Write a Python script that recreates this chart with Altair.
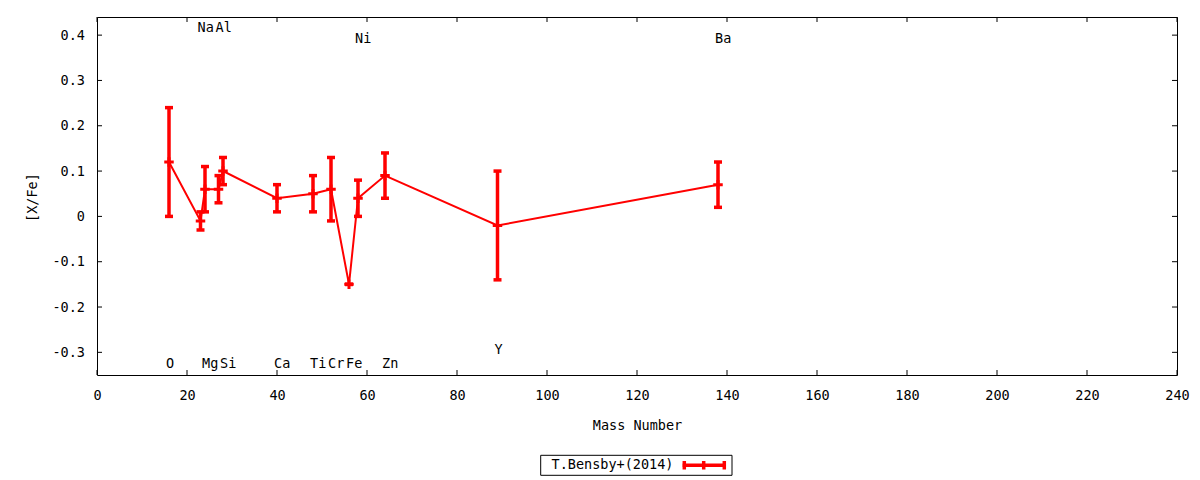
import altair as alt
import pandas as pd

# ---- data ----
elements = ["O", "Na", "Mg", "Al", "Si", "Ca", "Ti", "Cr", "Fe", "Ni", "Zn", "Y", "Ba"]
mass = [16, 23, 24, 27, 28, 40, 48, 52, 56, 58, 64, 89, 138]
xfe = [0.12, -0.01, 0.06, 0.06, 0.10, 0.04, 0.05, 0.06, -0.15, 0.04, 0.09, -0.02, 0.07]
err = [0.12, 0.02, 0.05, 0.03, 0.03, 0.03, 0.04, 0.07, 0.0, 0.04, 0.05, 0.12, 0.05]
label_y = [-0.326, 0.4165, -0.326, 0.4165, -0.326, -0.326, -0.326, -0.326, -0.326,
           0.391, -0.326, -0.294, 0.391]
x_ticks = [0, 20, 40, 60, 80, 100, 120, 140, 160, 180, 200, 220, 240]
y_ticks = [-0.3, -0.2, -0.1, 0.0, 0.1, 0.2, 0.3, 0.4]
legend_label = "T.Bensby+(2014)"

df = pd.DataFrame({"el": elements, "mass": mass, "xfe": xfe, "err": err, "ly": label_y})
df["lo"] = df["xfe"] - df["err"]
df["hi"] = df["xfe"] + df["err"]

W, H = 1080, 358
FONT = "DejaVu Sans Mono"
FS = 13.5
RED = "#ff0000"

xs = alt.Scale(domain=[0, 240], nice=False, zero=False)
ys = alt.Scale(domain=[-0.35, 0.44], nice=False, zero=False)

x_axis = alt.Axis(values=x_ticks, title="Mass Number", ticks=False, tickSize=0, domain=False,
                  grid=False, labelPadding=20, labelBaseline="middle", labelFlush=False,
                  labelOverlap=False, labelFont=FONT, labelFontSize=FS, labelColor="black",
                  titleFont=FONT, titleFontSize=FS, titleFontWeight="normal", titleColor="black",
                  titleY=50, titleBaseline="middle")
y_axis = alt.Axis(values=y_ticks, title="[X/Fe]", ticks=False, tickSize=0, domain=False,
                  grid=False, labelPadding=12.5, labelFlush=False, labelOverlap=False,
                  labelFont=FONT, labelFontSize=FS, labelColor="black",
                  labelExpr="replace(format(datum.value, '.1~f'), '\u2212', '-')",
                  titleFont=FONT, titleFontSize=FS, titleFontWeight="normal", titleColor="black",
                  titleAngle=270, titleX=-65, titleY=H / 2 + 1, titleAlign="center",
                  titleBaseline="middle")

X = alt.X("mass:Q", scale=xs, axis=x_axis)
Y = alt.Y("xfe:Q", scale=ys, axis=y_axis)

base = alt.Chart(df)

line = base.mark_line(color=RED, strokeWidth=2).encode(x=X, y=Y)
bars = base.mark_rule(color=RED, strokeWidth=3.5).encode(
    x=X, y=alt.Y("lo:Q", scale=ys, axis=y_axis), y2="hi:Q")
cap_shape = "M-1,0H1"
cap_hi = base.mark_point(shape=cap_shape, size=64, filled=False, color=RED, strokeWidth=3.5,
                         opacity=1).encode(x=X, y=alt.Y("hi:Q", scale=ys, axis=y_axis))
cap_lo = base.mark_point(shape=cap_shape, size=64, filled=False, color=RED, strokeWidth=3.5,
                         opacity=1).encode(x=X, y=alt.Y("lo:Q", scale=ys, axis=y_axis))
pts = base.mark_point(shape="M-1,0H1M0,-1V1", size=90, filled=False, color=RED, strokeWidth=3,
                      opacity=1).encode(x=X, y=Y)
labels = base.mark_text(align="left", baseline="middle", dx=-3, font=FONT, fontSize=FS,
                        color="black").encode(
    x=X, y=alt.Y("ly:Q", scale=ys, axis=y_axis), text="el:N")

# inward ticks on all four sides
xt = alt.Chart(pd.DataFrame({"mass": x_ticks}))
yt = alt.Chart(pd.DataFrame({"xfe": y_ticks}))
tick_b = xt.mark_rule(color="black", strokeWidth=1).encode(x=X, y=alt.value(H), y2=alt.value(H - 5))
tick_t = xt.mark_rule(color="black", strokeWidth=1).encode(x=X, y=alt.value(0), y2=alt.value(5))
tick_l = yt.mark_rule(color="black", strokeWidth=1).encode(y=Y, x=alt.value(0), x2=alt.value(5))
tick_r = yt.mark_rule(color="black", strokeWidth=1).encode(y=Y, x=alt.value(W - 5), x2=alt.value(W))

# legend box below the plot
lg = alt.Chart(pd.DataFrame({"label": [legend_label]}))
lg_box = lg.mark_rect(fill="white", stroke="black", strokeWidth=1).encode(
    x=alt.value(443.7), x2=alt.value(635), y=alt.value(438.3), y2=alt.value(458.3))
lg_text = lg.mark_text(align="right", baseline="middle", font=FONT, fontSize=FS,
                       color="black").encode(x=alt.value(576.5), y=alt.value(448.3), text="label:N")
lg_line = lg.mark_rule(color=RED, strokeWidth=3.5).encode(
    x=alt.value(585.7), x2=alt.value(629), y=alt.value(448.3))
lg_c1 = lg.mark_rule(color=RED, strokeWidth=3.5).encode(
    x=alt.value(587.3), y=alt.value(444), y2=alt.value(452.5))
lg_c2 = lg.mark_rule(color=RED, strokeWidth=3.5).encode(
    x=alt.value(606.7), y=alt.value(444), y2=alt.value(452.5))
lg_c3 = lg.mark_rule(color=RED, strokeWidth=3.5).encode(
    x=alt.value(627.3), y=alt.value(444), y2=alt.value(452.5))

chart = alt.layer(
    tick_b, tick_t, tick_l, tick_r, line, bars, cap_hi, cap_lo, pts, labels,
    lg_box, lg_text, lg_line, lg_c1, lg_c2, lg_c3
).properties(
    width=W, height=H,
    autosize=alt.AutoSizeParams(type="none"),
    padding={"left": 89, "top": 9, "right": 15, "bottom": 104},
    background="white",
).configure_view(stroke="black", strokeWidth=1)

chart.save("out.html", embed_options={"renderer": "svg", "actions": False})
